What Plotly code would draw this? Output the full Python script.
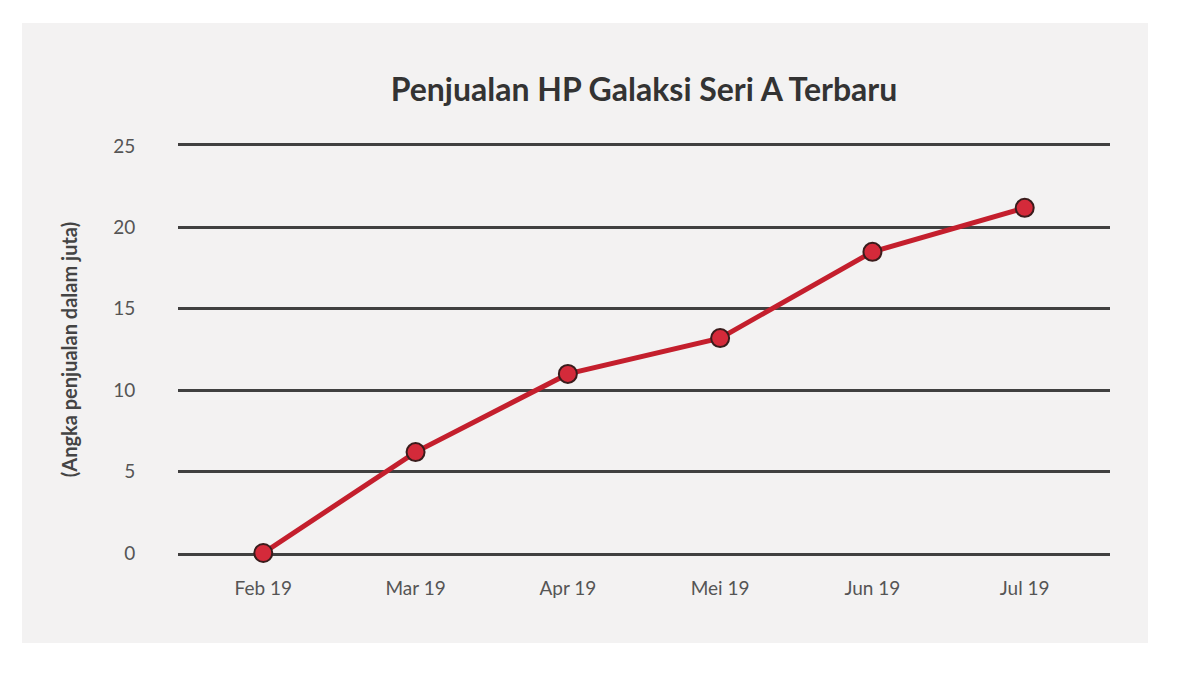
import plotly.graph_objects as go

bulan = ["Feb 19", "Mar 19", "Apr 19", "Mei 19", "Jun 19", "Jul 19"]
penjualan = [0, 6.2, 11.0, 13.2, 18.5, 21.2]
y_ticks = [0, 5, 10, 15, 20, 25]

fig = go.Figure()
fig.add_trace(go.Scatter(
    x=bulan, y=penjualan,
    mode="lines+markers",
    line=dict(color="#c41f2d", width=5),
    marker=dict(size=18, color="#d42a3a", line=dict(color="#3a1c1c", width=2)),
    cliponaxis=False,
    showlegend=False,
))

# grey panel behind the chart (white border around it)
fig.add_shape(type="rect", xref="paper", yref="paper",
              x0=-0.1674, x1=1.0408, y0=-0.221, y1=1.302,
              fillcolor="#f3f2f2", line=dict(width=0), layer="below")

# page body adds an 8px offset, so margins are shifted to compensate
fig.update_layout(
    width=1200, height=675,
    paper_bgcolor="white",
    plot_bgcolor="rgba(0,0,0,0)",
    margin=dict(l=170, r=98, t=138, b=130),
    font=dict(family="Lato", color="#555"),
    title=dict(text="<b>Penjualan HP Galaksi Seri A Terbaru</b>",
               x=0.5, xref="paper", xanchor="center",
               y=1 - 82 / 675, yref="container", yanchor="middle",
               font=dict(size=32, color="#333")),
)

# x axis line mirrored gives the top (25) gridline as well
fig.update_xaxes(
    range=[-0.56, 5.56], showgrid=False, zeroline=False,
    showline=True, mirror=True, linecolor="#404040", linewidth=3,
    layer="below traces",
    ticks="outside", ticklen=16, tickcolor="rgba(0,0,0,0)",
    tickfont=dict(size=19, color="#555"),
)
fig.update_yaxes(
    range=[0, 25], tickvals=y_ticks,
    showgrid=True, gridcolor="#404040", gridwidth=3,
    zeroline=True, zerolinecolor="#404040", zerolinewidth=3,
    showline=False, layer="below traces",
    ticks="outside", ticklen=38, tickcolor="rgba(0,0,0,0)",
    tickfont=dict(size=19, color="#555"),
    title=dict(text="<b>(Angka penjualan dalam juta)</b>", standoff=30,
               font=dict(size=20, color="#444")),
)

fig.write_html("out.html")
